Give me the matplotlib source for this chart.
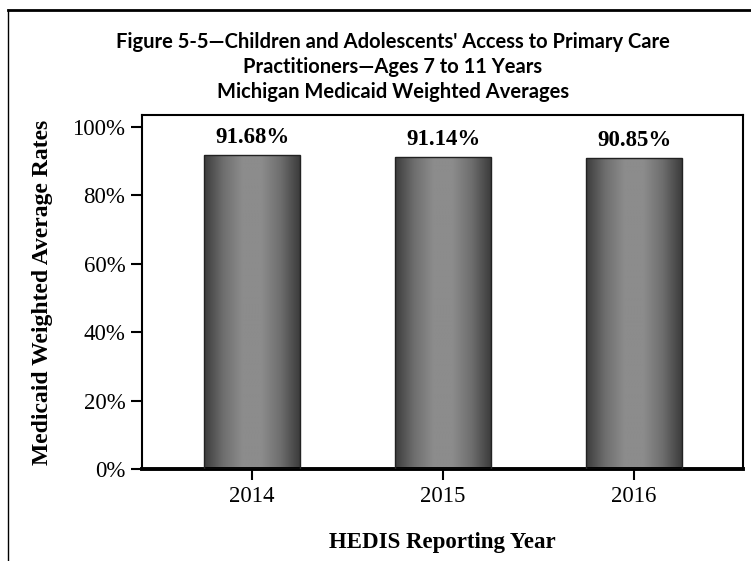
import numpy as np
import matplotlib.pyplot as plt
from matplotlib.lines import Line2D
from matplotlib.colors import LinearSegmentedColormap

years = ['2014', '2015', '2016']
rates = [91.68, 91.14, 90.85]
title_lines = ["Figure 5-5\u2014Children and Adolescents' Access to Primary Care",
               "Practitioners\u2014Ages 7 to 11 Years",
               "Michigan Medicaid Weighted Averages"]

DPI = 100
W, H = 751, 561
fig = plt.figure(dpi=DPI, figsize=(W / DPI, H / DPI))
ax = fig.add_axes([142 / W, 1 - 469 / H, (743 - 142) / W, (469 - 115) / H])

serif = 'Liberation Serif'
xs = np.arange(len(years))
bar_w = 0.5

# grey cylinder-like shading across each bar
shade = LinearSegmentedColormap.from_list(
    'shade', ['#3c3c3c', '#6e6e6e', '#8c8c8c', '#8c8c8c', '#6e6e6e', '#3c3c3c'])
grad = np.linspace(0, 1, 256).reshape(1, -1)

bars = ax.bar(xs, rates, width=bar_w, color='none', edgecolor='#222222',
              linewidth=1.0, zorder=3)
for b, r in zip(bars, rates):
    x0 = b.get_x()
    ax.imshow(grad, cmap=shade, aspect='auto', zorder=2,
              extent=[x0, x0 + b.get_width(), 0, b.get_height()])
    ax.text(b.get_x() + b.get_width() / 2, r + 2.2, f'{r:.2f}%',
            ha='center', va='bottom', fontsize=16.5, fontweight='bold',
            family=serif)

ax.set_xlim(-0.576, 2.57)
ax.set_ylim(0, 103.5)
ax.set_yticks(range(0, 101, 20))
ax.set_yticklabels([f'{v}%' for v in range(0, 101, 20)])
ax.set_xticks(xs)
ax.set_xticklabels(years)
ax.tick_params(direction='out', length=8, width=1.5, labelsize=16.5, pad=4)
for lab in ax.get_xticklabels() + ax.get_yticklabels():
    lab.set_family(serif)
for s in ['left', 'right', 'top']:
    ax.spines[s].set_linewidth(1.5)
ax.spines['bottom'].set_linewidth(2.8)

ax.set_ylabel('Medicaid Weighted Average Rates', fontsize=17, fontweight='bold',
              family=serif, labelpad=14)
ax.set_xlabel('HEDIS Reporting Year', fontsize=16.5, fontweight='bold',
              family=serif, labelpad=18)

for i, line in enumerate(title_lines):
    fig.text(393 / W, 1 - (42 + 25 * i) / H, line, ha='center', va='center',
             fontsize=14.5, fontweight='bold', family='Lato')

# frame around the figure (top and left visible)
fig.add_artist(Line2D([8 / W, 1], [1 - 10 / H, 1 - 10 / H], color='black', lw=2))
fig.add_artist(Line2D([8 / W, 8 / W], [0, 1 - 10 / H], color='black', lw=1))

fig.savefig('out.png', dpi=DPI)
